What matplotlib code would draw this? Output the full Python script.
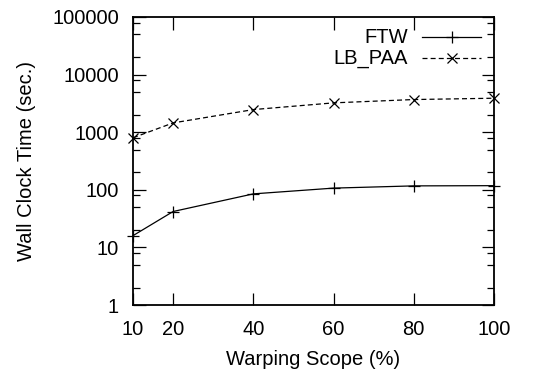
import numpy as np
import matplotlib
matplotlib.use("Agg")
import matplotlib.pyplot as plt
from matplotlib.ticker import LogLocator, NullFormatter

scope = [10, 20, 40, 60, 80, 100]
ftw = [16, 42, 85, 107, 117, 118]
lb_paa = [800, 1450, 2470, 3230, 3690, 3890]
yticks = [1, 10, 100, 1000, 10000, 100000]
ytick_labels = ["1", "10", "100", "1000", "10000", "100000"]

plt.rcParams['font.family'] = ['Liberation Sans', 'DejaVu Sans']
plt.rcParams['font.size'] = 14.5

fig = plt.figure(figsize=(5.35, 3.76), dpi=100)
ax = fig.add_axes([0.2486, 0.1888, 0.6748, 0.766])

ax.plot(scope, ftw, color='black', lw=0.9, marker='+', ms=9, mew=0.9, clip_on=False)
ax.plot(scope, lb_paa, color='black', lw=0.9, ls=(0, (4, 2.5)), marker='x', ms=7.5, mew=0.9, clip_on=False)

ax.set_yscale('log')
ax.set_xlim(10, 100)
ax.set_ylim(1, 100000)
ax.set_xticks(scope)
ax.set_xticklabels([str(s) for s in scope])
ax.set_yticks(yticks)
ax.set_yticklabels(ytick_labels)
ax.yaxis.set_minor_locator(LogLocator(base=10, subs=[2, 5, 8]))
ax.yaxis.set_minor_formatter(NullFormatter())
ax.tick_params(which='both', direction='in', top=True, right=True, width=0.9)
ax.tick_params(which='major', length=9)
ax.tick_params(which='minor', length=5)
ax.tick_params(axis='y', which='major', pad=10)
ax.tick_params(axis='x', which='major', pad=11)
for s in ax.spines.values():
    s.set_linewidth(1.3)

ax.set_xlabel('Warping Scope (%)', labelpad=8)
ax.set_ylabel('Wall Clock Time (sec.)', labelpad=12)

# legend, gnuplot style: label right-aligned, sample on the right
tr = ax.transAxes
for i, (name, ls, mk) in enumerate([('FTW', '-', '+'), ('LB_PAA', (0, (4, 2.5)), 'x')]):
    yy = 0.93 - i * 0.073
    ax.text(0.762, yy, name, transform=tr, ha='right', va='center')
    ax.plot([0.801, 0.965], [yy, yy], transform=tr, color='black', lw=0.9, ls=ls)
    ax.plot([0.883], [yy], transform=tr, color='black', marker=mk, ms=9 if mk == '+' else 7.5, mew=0.9)

fig.savefig('out.png', dpi=100)
